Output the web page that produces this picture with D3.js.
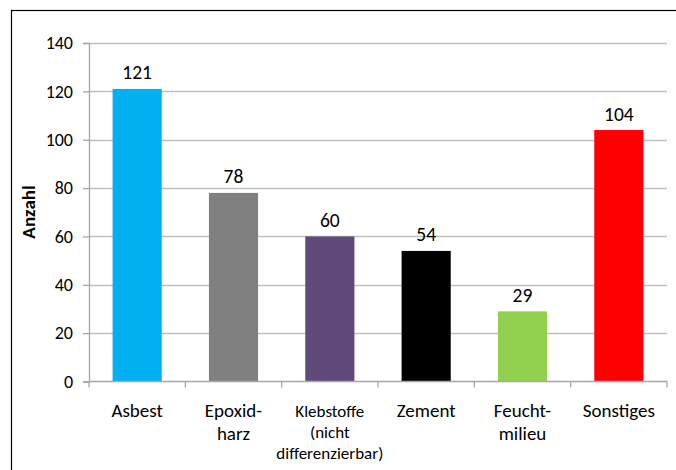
<!DOCTYPE html>
<html>
<head>
<meta charset="utf-8">
<script src="https://cdn.jsdelivr.net/npm/d3@7/dist/d3.min.js"></script>
<style>
  body { margin: 0; background: #fff; }
  svg text { font-family: Carlito, Lato, "Open Sans", sans-serif; fill: #000; }
</style>
</head>
<body>
<div id="chart"></div>
<script>
var categories = ["Asbest", "Epoxid-|harz", "Klebstoffe|(nicht|differenzierbar)", "Zement", "Feucht-|milieu", "Sonstiges"]
var values = [121, 78, 60, 54, 29, 104]
var colors = ["#00b0f0", "#808080", "#604a7b", "#000000", "#92d050", "#ff0000"]
var yTicks = [0, 20, 40, 60, 80, 100, 120, 140]

var width = 676, height = 470
var margin = { top: 43, left: 89, right: 9, bottom: 88.5 }

var svg = d3.select("#chart")
            .append("svg")
            .attr("width", width)
            .attr("height", height)

// outer chart frame (runs off the right and bottom edge)
svg.append("rect")
    .attr("x", 11.5).attr("y", 10.5)
    .attr("width", 700).attr("height", 500)
    .attr("fill", "none")
    .attr("stroke", "#000")
    .attr("stroke-width", 1.2)

var x = d3.scaleBand()
          .domain(categories)
          .range([margin.left, width - margin.right])
          .paddingInner(0.49)
          .paddingOuter(0.245)

var y = d3.scaleLinear()
          .domain([0, 140])
          .range([height - margin.bottom, margin.top])

// gridlines
svg.append("g")
    .selectAll("line")
    .data(yTicks.slice(1))
    .enter().append("line")
    .attr("x1", margin.left).attr("x2", width - margin.right)
    .attr("y1", function(d) { return Math.round(y(d)) + 0.5 })
    .attr("y2", function(d) { return Math.round(y(d)) + 0.5 })
    .attr("stroke", "#bfbfbf")
    .attr("stroke-width", 1.3)

// bars
svg.selectAll(".bar")
    .data(values)
    .enter().append("rect")
    .attr("class", "bar")
    .attr("x", function(d, i) { return x(categories[i]) })
    .attr("y", function(d) { return y(d) })
    .attr("width", x.bandwidth())
    .attr("height", function(d) { return y(0) - y(d) })
    .attr("fill", function(d, i) { return colors[i] })

// value labels
svg.selectAll(".val")
    .data(values)
    .enter().append("text")
    .attr("class", "val")
    .attr("x", function(d, i) { return x(categories[i]) + x.bandwidth() / 2 })
    .attr("y", function(d) { return y(d) - 9.5 })
    .attr("text-anchor", "middle")
    .style("font-size", "19.5px")
    .text(function(d) { return d })

// y axis
var yAxis = d3.axisLeft(y).tickValues(yTicks).tickSize(6).tickPadding(10)
var gy = svg.append("g")
    .attr("transform", "translate(" + margin.left + ",0)")
    .call(yAxis)
gy.select(".domain").attr("stroke", "#a6a6a6").attr("stroke-width", 1.3)
gy.selectAll(".tick line").attr("stroke", "#a6a6a6").attr("stroke-width", 1.3)
gy.selectAll(".tick text")
    .style("font-size", "18px")
    .style("font-family", "Carlito, Lato, 'Open Sans', sans-serif")
    .attr("fill", "#000")

// x axis baseline and ticks between categories
var xBase = y(0)
svg.append("line")
    .attr("x1", margin.left).attr("x2", width - margin.right)
    .attr("y1", xBase).attr("y2", xBase)
    .attr("stroke", "#a6a6a6").attr("stroke-width", 1.3)

var bounds = d3.range(categories.length + 1).map(function(i) { return margin.left + i * (width - margin.right - margin.left) / categories.length })
svg.append("g")
    .selectAll("line")
    .data(bounds)
    .enter().append("line")
    .attr("x1", function(d) { return d }).attr("x2", function(d) { return d })
    .attr("y1", xBase).attr("y2", xBase + 6)
    .attr("stroke", "#a6a6a6").attr("stroke-width", 1.3)

// category labels
categories.forEach(function(c, i) {
    var lines = c.split("|")
    var small = lines.length > 2
    var t = svg.append("text")
        .attr("x", x(c) + x.bandwidth() / 2)
        .attr("y", 417)
        .attr("text-anchor", "middle")
        .style("font-size", small ? "17px" : "19px")
    lines.forEach(function(l, j) {
        t.append("tspan")
            .attr("x", x(c) + x.bandwidth() / 2)
            .attr("dy", j === 0 ? 0 : (small ? 21 : 23))
            .text(l)
    })
})

// y axis title
svg.append("text")
    .attr("transform", "translate(35," + 212 + ") rotate(-90)")
    .attr("text-anchor", "middle")
    .style("font-size", "19px")
    .style("font-weight", "bold")
    .text("Anzahl")
</script>
</body>
</html>
